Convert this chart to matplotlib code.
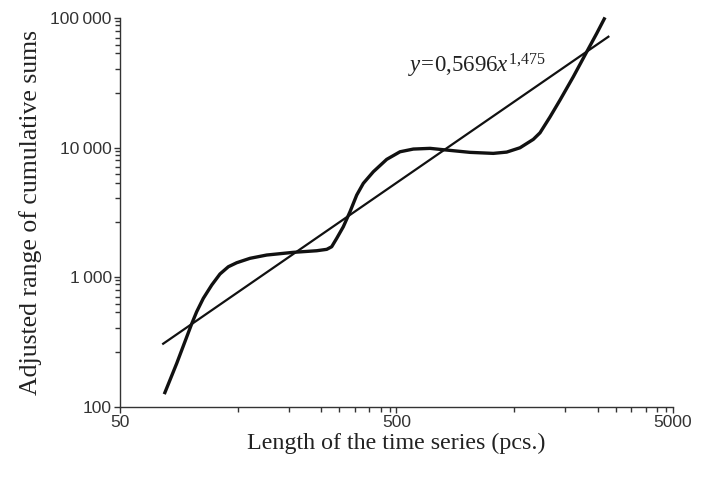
import numpy as np
import matplotlib
matplotlib.use('Agg')
import matplotlib.pyplot as plt
from matplotlib.ticker import FixedLocator, FuncFormatter, NullFormatter

curve_x = [72.3, 80.2, 90.8, 94.7, 100.1, 107.4, 115.0, 123.3, 132.2, 147.7, 169.7, 211.9,
           257.5, 279.9, 291.7, 304.2, 321.4, 339.8, 359.4, 379.7, 412.7, 461.4, 515.5, 575.9,
           662.2, 760.6, 924, 1121, 1254, 1401, 1565, 1655, 1798, 1955, 2184, 2443, 2655, 2845]
curve_y = [125, 216, 435, 541, 687, 871, 1059, 1205, 1294, 1400, 1484, 1557,
           1602, 1642, 1720, 1997, 2455, 3204, 4313, 5311, 6527, 8136, 9313, 9773,
           9895, 9600, 9215, 9050, 9260, 10000, 11610, 13050, 17270, 23350, 35340, 55100, 76460, 101600]

# power law fit, end points of the drawn line
fit_x = [71.1, 2948]
fit_y = [303, 72880]

x_major = [50, 500, 5000]
y_major = [100, 1000, 10000, 100000]
y_labels = ['100', '1\u2009000', '10\u2009000', '100\u2009000']

# minor ticks of the original software sit at these fractions of a decade
minor_mult = [2.665, 4.088, 5.358, 6.223, 7.063, 7.98, 8.81, 9.48]

serif = ['Liberation Serif', 'DejaVu Serif']
sans = ['Liberation Sans', 'DejaVu Sans']

plt.rcParams['mathtext.fontset'] = 'custom'
plt.rcParams['mathtext.rm'] = 'Liberation Serif'
plt.rcParams['mathtext.it'] = 'Liberation Serif:italic'

fig = plt.figure(figsize=(7.08, 4.79), dpi=100)
ax = fig.add_axes([120 / 708, 1 - 406.7 / 479, (672.7 - 120) / 708, (406.7 - 18.3) / 479])

ax.plot(curve_x, curve_y, '-', color='#111111', lw=2.4, solid_capstyle='butt',
        solid_joinstyle='round', clip_on=False)
ax.plot(fit_x, fit_y, '-', color='#111111', lw=1.6, solid_capstyle='butt')

ax.set_xscale('log')
ax.set_yscale('log')
ax.set_xlim(50, 5000)
ax.set_ylim(100, 100000)

ax.xaxis.set_major_locator(FixedLocator(x_major))
ax.yaxis.set_major_locator(FixedLocator(y_major))
ax.xaxis.set_minor_locator(FixedLocator([b * m for b in x_major[:-1] for m in minor_mult]))
ax.yaxis.set_minor_locator(FixedLocator([b * m for b in y_major[:-1] for m in minor_mult]))
ax.xaxis.set_major_formatter(FuncFormatter(lambda v, p: '%d' % v))
ax.yaxis.set_major_formatter(FuncFormatter(lambda v, p: y_labels[y_major.index(int(round(v)))]))
ax.xaxis.set_minor_formatter(NullFormatter())
ax.yaxis.set_minor_formatter(NullFormatter())

for s in ['top', 'right']:
    ax.spines[s].set_visible(False)
for s in ['left', 'bottom']:
    ax.spines[s].set_linewidth(1.0)
    ax.spines[s].set_color('#333333')

ax.tick_params(which='major', direction='out', length=4, width=1.0, color='#333333',
               labelsize=12.5, labelcolor='#333333', pad=2)
ax.tick_params(which='minor', direction='out', length=3.5, width=1.0, color='#333333')
for lab in ax.get_xticklabels() + ax.get_yticklabels():
    lab.set_family(sans)

ax.set_xlabel('Length of the time series (pcs.)', family=serif, fontsize=17.3, color='#222222', labelpad=2)
ax.set_ylabel('Adjusted range of cumulative sums', family=serif, fontsize=18.5, color='#222222', labelpad=6)

fig.text(408 / 708, 1 - 66 / 479, r'$y\!=\!0{,}5696x^{1{,}475}$', fontsize=16.5,
         color='#222222', va='center', ha='left')

fig.savefig('out.png', dpi=100)
